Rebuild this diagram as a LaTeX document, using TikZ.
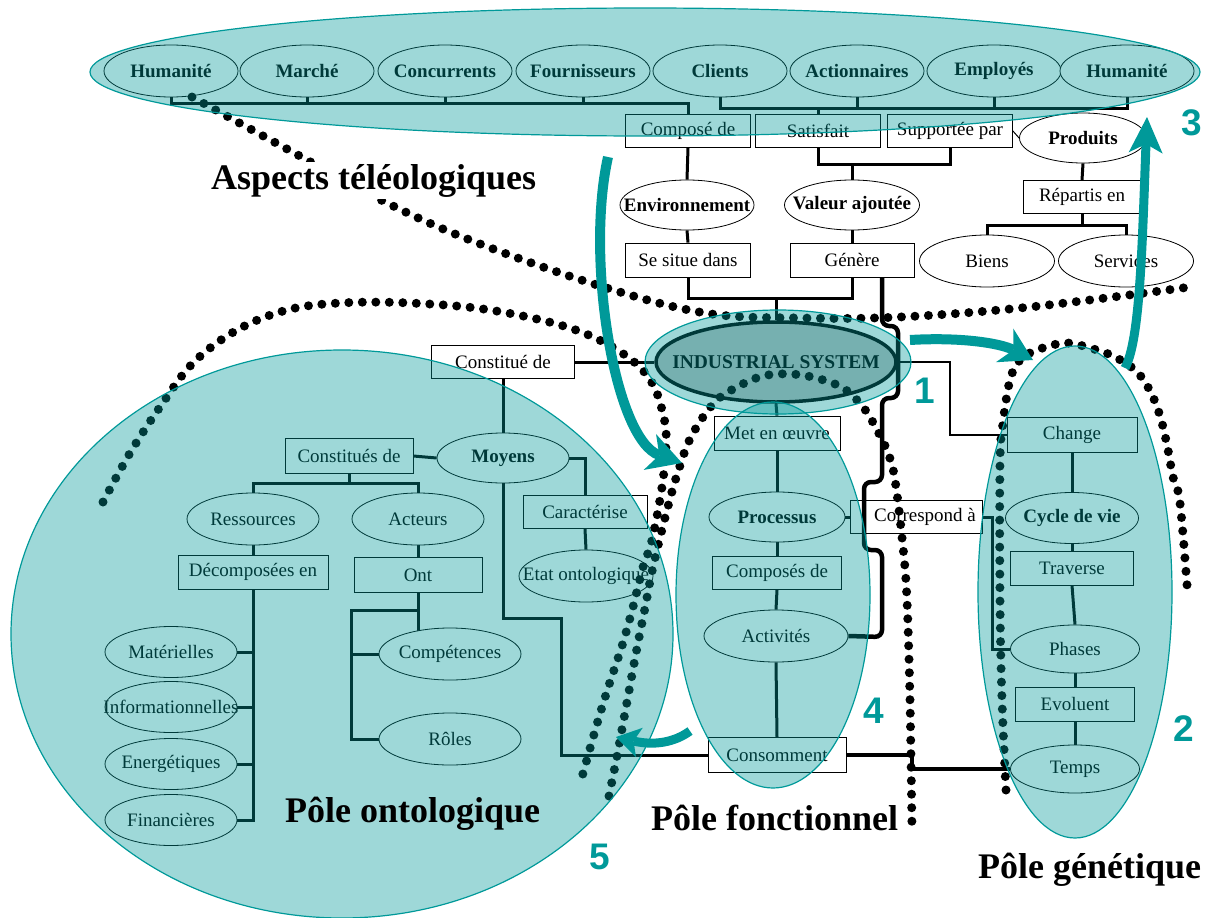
\documentclass[tikz,border=0pt]{standalone}
\usepackage{fontspec}
\setmainfont{Liberation Serif}
\newfontfamily\numfont{Liberation Sans}
\usetikzlibrary{shapes.geometric,arrows.meta,calc}
\definecolor{tealc}{RGB}{0,153,153}
\pgfdeclarelayer{bg}\pgfdeclarelayer{dotl}\pgfdeclarelayer{hatchl}\pgfdeclarelayer{topl}
\pgfsetlayers{bg,main,dotl,hatchl,topl}
\begin{document}
\begin{tikzpicture}[x=1pt,y=-1pt,
  lab/.style={font=\fontsize{19}{19}\selectfont, inner sep=0pt},
  sz/.style 2 args={minimum width=#1pt, minimum height=#2pt},
  box/.style={rectangle, draw, line width=0.8pt, fill=white, inner sep=0pt, font=\fontsize{19}{19}\selectfont},
  ell/.style={ellipse, draw, line width=0.8pt, fill=white, inner sep=0pt, minimum width=134pt, minimum height=52pt, label={[lab]center:{#1}}},
  ellb/.style={ell={\bfseries #1}},
  conn/.style={line width=3pt},
  thickc/.style={line width=4.5pt},
  dotline/.style={line width=9pt, line cap=round, dash pattern=on 0pt off 13.5pt},
  hatch/.style={fill=tealc, fill opacity=0.38, draw=tealc, draw opacity=1, line width=1.2pt},
  tarrow/.style={draw=tealc, line width=10pt},
  num/.style={text=tealc, font=\numfont\bfseries\fontsize{37}{37}\selectfont, inner sep=0pt},
  bigl/.style={font=\bfseries\fontsize{36}{36}\selectfont, inner sep=0pt}
]
\useasboundingbox (0,0) rectangle (1211,918);

% ---------- top row
\node[ellb={Humanité}] (h1) at (171,71) {};
\node[ellb={Marché}] (mar) at (307,71) {};
\node[ellb={Concurrents}] (conc) at (445,71) {};
\node[ellb={Fournisseurs}] (four) at (583,71) {};
\node[ellb={Clients}] (cli) at (720,71) {};
\node[ellb={Actionnaires}] (act) at (857,71) {};
\node[ellb={Employés}] (emp) at (994,71) {};
\node[ellb={Humanité}] (h2) at (1127,71) {};

\node[box, sz={125}{33}] (compose) at (688,131) {Composé de};
\node[box, sz={125}{33}] (satisf) at (818,131) {Satisfait};
\node[box, sz={125}{33}] (support) at (950,131) {Supportée par};
\node[ellb={Produits}, sz={127}{50}] (produits) at (1083,138) {};
\node[box, sz={118}{33}] (repartis) at (1082,197) {Répartis en};
\node[ell={Biens}, sz={135}{52}] (biens) at (987,261) {};
\node[ell={Services}, sz={135}{52}] (services) at (1126,261) {};

\node[ellb={Environnement}, sz={134}{50}] (env) at (687,205) {};
\node[ellb={Valeur ajoutée}, sz={135}{50}] (val) at (852,205) {};
\node[box, sz={125}{34}] (situe) at (688,260) {Se situe dans};
\node[box, sz={124}{34}] (genere) at (852,260) {Génère};

\node[ellipse, draw, line width=3.5pt, fill=black!25, sz={240}{80}, inner sep=0pt,
      label={[font=\bfseries\fontsize{19.5}{19.5}\selectfont, inner sep=0pt]center:INDUSTRIAL SYSTEM}] (IS) at (776,362) {};

% ---------- ontological part
\node[box, sz={143}{33}] (constitue) at (503,362) {Constitué de};
\node[ellb={Moyens}, sz={132}{50}] (moyens) at (503,458) {};
\node[box, sz={128}{35}] (constitues) at (349,456) {Constitués de};
\node[ell={Ressources}, sz={132}{52}] (ress) at (253,519) {};
\node[ell={Acteurs}, sz={132}{52}] (acteurs) at (418,519) {};
\node[box, sz={150}{34}] (decomp) at (253,572) {Décomposées en};
\node[box, sz={128}{35}] (ont) at (418,575) {Ont};
\node[ell={Matérielles}, sz={132}{51}] (mat) at (171,652) {};
\node[ell={Informationnelles}, sz={132}{51}] (info) at (171,707) {};
\node[ell={Energétiques}, sz={132}{51}] (ener) at (171,764) {};
\node[ell={Financières}, sz={132}{51}] (fin) at (171,820) {};
\node[ell={Compétences}, sz={142}{52}] (comp) at (450,654) {};
\node[ell={Rôles}, sz={142}{52}] (roles) at (450,739) {};
\node[box, sz={124}{33}] (caract) at (585,512) {Caractérise};
\node[ell={Etat ontologique}, sz={134}{52}] (etat) at (586,576) {};

% ---------- functional part
\node[box, sz={126}{34}] (met) at (777,433) {Met en œuvre};
\node[ellb={Processus}, sz={136}{50}] (processus) at (777,517) {};
\node[box, sz={129}{33}] (composes) at (777,573) {Composés de};
\node[ell={Activités}, sz={144}{52}] (activites) at (776,636) {};
\node[box, sz={138}{35}] (consomment) at (777,755) {Consomment};
\node[box, sz={132}{33}, label={[lab, xshift=9pt]center:Correspond à}] (correspond) at (916,517) {};

% ---------- genetic part
\node[box, sz={130}{35}] (change) at (1072,435) {Change};
\node[ellb={Cycle de vie}, sz={133}{51}] (cycle) at (1072,518) {};
\node[box, sz={123}{34}] (traverse) at (1072,568) {Traverse};
\node[ell={Phases}, sz={129}{48}] (phases) at (1075,649) {};
\node[box, sz={119}{34}] (evoluent) at (1075,704) {Evoluent};
\node[ell={Temps}, sz={129}{48}] (temps) at (1075,769) {};

% ---------- connectors
\begin{pgfonlayer}{bg}
\coordinate (busL) at (0,103);
\coordinate (busR) at (0,108);
\draw[conn] (h1.south) |- (busL -| compose.north) -- (compose.north);
\foreach \n in {mar,conc,four} \draw[conn] (\n.south) -- (\n.south |- busL);
\draw[conn] (cli.south) |- (busR -| h2.south) -- (h2.south);
\foreach \n in {act,emp} \draw[conn] (\n.south) -- (\n.south |- busR);
\draw[conn] (satisf.north) -- (satisf.north |- busR);
\coordinate (busV) at (0,164);
\draw[conn] (satisf.south) |- (busV -| support.south) -- (support.south);
\draw[conn] (val.north) -- (val.north |- busV);
\draw[conn] (compose.south) -- (env.north);
\draw[conn] (env.south) -- (situe.north);
\draw[conn] (val.south) -- (genere.north);
\coordinate (busG) at (0,298);
\draw[conn] (situe.south) |- (busG -| genere.south) -- (genere.south);
\draw[conn] (IS.north) -- (IS.north |- busG);
\draw[line width=1pt] (support.east) -- (produits.west);
\draw[conn] (produits.south) -- (repartis.north);
\coordinate (busP) at (0,225);
\draw[conn] (biens.north) -- (biens.north |- busP) -- (services.north |- busP) -- (services.north);
\draw[conn] (repartis.south) -- (repartis.south |- busP);
\draw[line width=2.5pt] (IS.east) -- (950,362) |- (change.west);
\draw[conn] (constitue.east) -- (IS.west);
\draw[conn] (constitue.south) -- (moyens.north);
\draw[conn] (moyens.west) -- (constitues.east);
\draw[conn] (moyens.east) -| (caract.north);
\draw[conn] (caract.south) -- (etat.north);
\coordinate (busC) at (0,483);
\draw[conn] (ress.north) -- (ress.north |- busC) -- (acteurs.north |- busC) -- (acteurs.north);
\draw[conn] (constitues.south) -- (constitues.south |- busC);
\draw[conn] (ress.south) -- (decomp.north);
\draw[conn] (acteurs.south) -- (ont.north);
\draw[conn] (decomp.south) -- (decomp.south |- fin.east) -- (fin.east);
\foreach \n in {mat,info,ener} \draw[conn] (\n.east) -- (\n.east -| decomp.south);
\coordinate (busO) at (351,610);
\draw[conn] (ont.south) -- ($(ont.south |- comp.north)+(0,4)$);
\draw[conn] (ont.south |- busO) -- (busO) |- (roles.west);
\draw[conn] (comp.west) -- (comp.west -| busO);
\draw[conn] (moyens.south) -- (503,618) -- (561,618) |- (consomment.west);
\draw[thickc] (consomment.east) -- (912,755) |- (temps.west);
\draw[conn] (IS.south) -- (met.north);
\draw[conn] (met.south) -- (processus.north);
\draw[conn] (processus.south) -- (composes.north);
\draw[conn] (composes.south) -- (activites.north);
\draw[conn] (activites.south) -- (consomment.north);
\draw[conn] (processus.east) -- (correspond.west);
\draw[conn] (correspond.east) -- (992,517) |- (phases.west);
\draw[conn] (change.south) -- (cycle.north);
\draw[conn] (cycle.south) -- (traverse.north);
\draw[conn] (traverse.south) -- (phases.north);
\draw[conn] (phases.south) -- (evoluent.north);
\draw[conn] (evoluent.south) -- (temps.north);
\end{pgfonlayer}

% ---------- dotted boundaries and the jumping connector
\begin{pgfonlayer}{dotl}
\draw[thickc, rounded corners=7pt] ([xshift=30pt]genere.south) -- (882,326) -- (898,326) -- (898,398) -- (882,398)
   -- (882,482) -- (864,482) -- (864,550) -- (882,550) -- (882,637) -- (activites.east);
\draw[dotline] plot[smooth, tension=0.6] coordinates {(192,97) (287,149) (381,200) (470,240) (597,285) (705,313) (800,318) (900,317) (1030,307) (1190,287)};
\draw[dotline] plot[smooth, tension=0.6] coordinates {(103,502) (130,453) (160,407) (193,363) (237,330) (287,310) (340,303) (410,303) (490,310) (570,328) (622,353) (651,381) (664,418) (666,445) (662,487) (652,540) (643,567) (633,607) (622,646) (609,685) (597,724) (582,777)};
\draw[dotline] plot[smooth, tension=0.6] coordinates {(609,796) (617,756) (627,702) (637,648) (645,608) (653,567) (666,514) (677,475) (691,437) (714,403) (737,387) (763,376) (790,374) (816,378) (843,388) (863,407) (876,428) (888,453) (895,480) (903,547) (907,600) (910,700) (912,830)};
\draw[dotline] plot[smooth, tension=0.6] coordinates {(1006,790) (1002,700) (1000,600) (1000,463) (1003,423) (1010,380) (1020,360) (1037,350) (1065,343) (1090,348) (1115,357) (1138,373) (1153,397) (1162,423) (1168,450) (1173,477) (1180,503) (1188,598)};
\end{pgfonlayer}

% ---------- hatched poles
\begin{pgfonlayer}{hatchl}
\path[hatch] (645,72) ellipse [x radius=555pt, y radius=64pt];
\path[hatch] (778,362) ellipse [x radius=133pt, y radius=52pt];
\path[hatch] (773,595) ellipse [x radius=97pt, y radius=193pt];
\path[hatch] (1075,592) ellipse [x radius=97pt, y radius=246pt];
\path[hatch] (342,634) ellipse [x radius=331pt, y radius=284pt];
\end{pgfonlayer}

% ---------- arrows, numbers, titles
\begin{pgfonlayer}{topl}
\coordinate (a0) at (608,157);
\coordinate (a1) at (682,463);
\draw[tarrow, -{Stealth[length=34pt,width=38pt,inset=10pt,line width=0pt]}] (a0) .. controls (585,260) and (615,440) .. (a1);
\coordinate (b0) at (910,340);
\coordinate (b1) at (1033,360);
\draw[tarrow, -{Stealth[length=32pt,width=38pt,inset=10pt,line width=0pt]}] (b0) .. controls (960,337) and (1000,343) .. (b1);
\coordinate (c0) at (1125,368);
\coordinate (c1) at (1147,117);
\draw[tarrow, line width=9pt, -{Stealth[length=36pt,width=34pt,inset=9pt,line width=0pt]}] (c0) .. controls (1140,340) and (1142,250) .. (c1);
\coordinate (d0) at (690,731);
\coordinate (d1) at (616,737);
\draw[tarrow, line width=9pt, -{Stealth[length=24pt,width=30pt,inset=6pt,line width=0pt]}] (d0) .. controls (675,742) and (655,746) .. (d1);

\node[num] (n1) at (925,391) {1};
\node[num] (n2) at (1184,729) {2};
\node[num] (n3) at (1192,123) {3};
\node[num] (n4) at (874,711) {4};
\node[num] (n5) at (600,857) {5};

\node[bigl, anchor=base west, fill=white, inner sep=2pt] (asp) at (209,189) {Aspects téléologiques};
\node[bigl, anchor=base west] (pont) at (285,822) {Pôle ontologique};
\node[bigl, anchor=base west] (pfon) at (651,830) {Pôle fonctionnel};
\node[bigl, anchor=base west] (pgen) at (978,878) {Pôle génétique};
\end{pgfonlayer}
\end{tikzpicture}
\end{document}
